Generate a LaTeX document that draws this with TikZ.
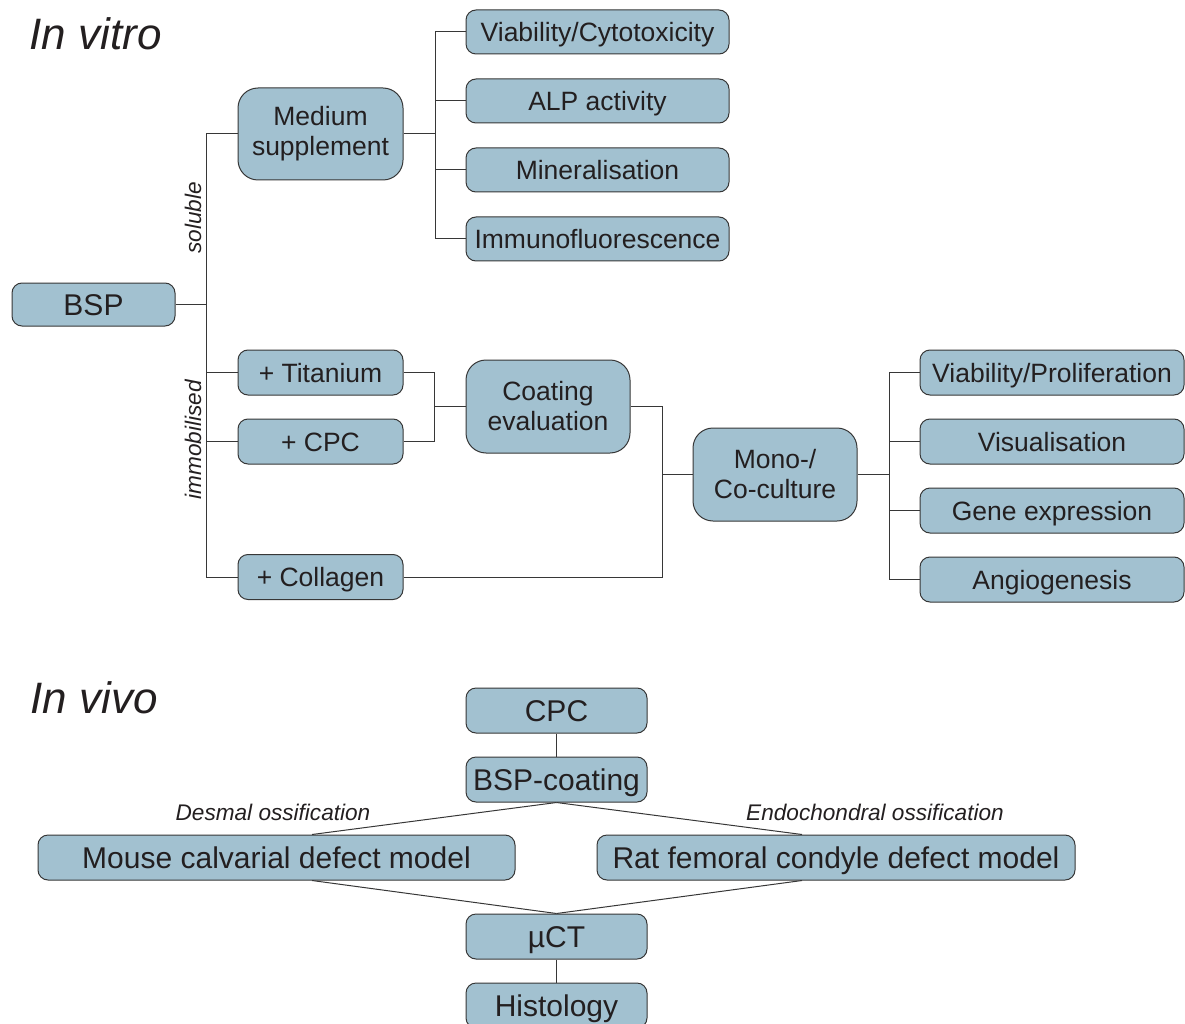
\documentclass[tikz,border=0pt]{standalone}
\usepackage{fontspec}
\setmainfont{Liberation Sans}
\usepackage{xcolor}
\usepackage{tikz}
\usetikzlibrary{positioning}
\definecolor{boxblue}{RGB}{162,193,208}
\definecolor{edgegray}{RGB}{55,55,55}
\definecolor{inkdark}{RGB}{35,31,32}

\begin{document}
\begin{tikzpicture}[
  x=1pt, y=-1pt,
  text=inkdark,
  box/.style={draw=edgegray, line width=1pt, fill=boxblue, rounded corners=10pt, inner sep=0pt,
    align=center, minimum height=44pt, text height=24pt, text depth=5pt,
    font=\fontsize{26.5}{30}\selectfont},
  bigbox/.style={box, rounded corners=20pt, minimum width=164pt, minimum height=92pt,
    text height={}, text depth={}},
  wide/.style={box, minimum height=45pt, text height=27pt, text depth=5.5pt,
    font=\fontsize{30}{34}\selectfont},
  conn/.style={draw=edgegray, line width=1pt},
  tag/.style={font=\fontsize{22.6}{26}\selectfont\itshape},
  title/.style={font=\fontsize{44}{48}\selectfont\itshape, anchor=base west},
]
\useasboundingbox (0,0) rectangle (1185,1024);

% Titles
\node[title] (tvitro) at (26,50) {In vitro};
\node[title] (tvivo) at (27,713) {In vivo};

% In vitro: source and soluble branch
\node[wide, minimum width=163pt, minimum height=43pt] (bsp) at (93.5,304.5) {BSP};
\node[bigbox, minimum width=165pt] (med) at (320.5,134) {Medium\\supplement};

\node[box, minimum width=263pt] (via) at (597.5,32) {Viability/Cytotoxicity};
\node[box, minimum width=263pt, below=24pt of via] (alp) {ALP activity};
\node[box, minimum width=263pt, below=24pt of alp] (mine) {Mineralisation};
\node[box, minimum width=263pt, below=24pt of mine] (immu) {Immunofluorescence};

% Immobilised branch
\node[box, minimum width=165pt, minimum height=45pt] (tit) at (320.5,372.5) {+ Titanium};
\node[box, minimum width=165pt, minimum height=45pt, below=23pt of tit] (cpc) {+ CPC};
\node[box, minimum width=165pt, minimum height=45pt] (col) at (320.5,577) {+ Collagen};

\node[bigbox, minimum height=93pt] (coat) at (548,406.5) {Coating\\evaluation};
\node[bigbox, minimum height=93pt] (mono) at (775,474.5) {Mono-/\\Co-culture};

\node[box, minimum width=264pt, minimum height=45pt] (vipr) at (1052,372.5) {Viability/Proliferation};
\node[box, minimum width=264pt, minimum height=45pt, below=23pt of vipr] (vis) {Visualisation};
\node[box, minimum width=264pt, minimum height=45pt, below=23pt of vis] (gene) {Gene expression};
\node[box, minimum width=264pt, minimum height=45pt, below=23pt of gene] (angio) {Angiogenesis};

% Junctions
\coordinate (tj) at (206,304.5);
\coordinate (mj) at (435,134);
\coordinate (cj) at (434,406.5);
\coordinate (oj) at (662,474.5);
\coordinate (rj) at (889,474.5);

% Edges (in vitro)
\draw[conn] (bsp.east) -- (tj);
\draw[conn] (med.west) -| (tj);
\draw[conn] (col.west) -| (tj);
\draw[conn] (tit.west) -- (tit.west -| tj);
\draw[conn] (cpc.west) -- (cpc.west -| tj);

\draw[conn] (med.east) -- (mj);
\draw[conn] (via.west) -| (mj);
\draw[conn] (immu.west) -| (mj);
\draw[conn] (alp.west) -- (alp.west -| mj);
\draw[conn] (mine.west) -- (mine.west -| mj);

\draw[conn] (tit.east) -| (cj);
\draw[conn] (cpc.east) -| (cj);
\draw[conn] (cj) -- (coat.west);

\draw[conn] (coat.east) -| (oj);
\draw[conn] (col.east) -| (oj);
\draw[conn] (oj) -- (mono.west);

\draw[conn] (mono.east) -- (rj);
\draw[conn] (vipr.west) -| (rj);
\draw[conn] (angio.west) -| (rj);
\draw[conn] (vis.west) -- (vis.west -| rj);
\draw[conn] (gene.west) -- (gene.west -| rj);

% Branch labels
\node[tag, rotate=90] (lsol) at (193,218) {soluble};
\node[tag, rotate=90] (limm) at (193,440) {immobilised};

% In vivo
\node[wide, minimum width=181pt] (cpcv) at (556.5,710.5) {CPC};
\node[wide, minimum width=181pt, below=23pt of cpcv] (bspc) {BSP-coating};
\node[wide, minimum width=477pt] (mouse) at (276.5,857.5) {Mouse calvarial defect model};
\node[wide, minimum width=478pt] (rat) at (836,857.5) {Rat femoral condyle defect model};
\node[wide, minimum width=181pt] (uct) at (556.5,936.5) {µCT};
\node[wide, minimum width=181pt, below=23pt of uct] (hist) {Histology};

\node[tag, anchor=base] (ldes) at (273,820) {Desmal ossification};
\node[tag, anchor=base] (lendo) at (875,820) {Endochondral ossification};

% Edges (in vivo)
\draw[conn] (cpcv.south) -- (bspc.north);
\draw[conn] (bspc.south) -- ([xshift=35.5pt]mouse.north);
\draw[conn] (bspc.south) -- ([xshift=-34pt]rat.north);
\draw[conn] ([xshift=35.5pt]mouse.south) -- (uct.north);
\draw[conn] ([xshift=-34pt]rat.south) -- (uct.north);
\draw[conn] (uct.south) -- (hist.north);
\end{tikzpicture}
\end{document}
